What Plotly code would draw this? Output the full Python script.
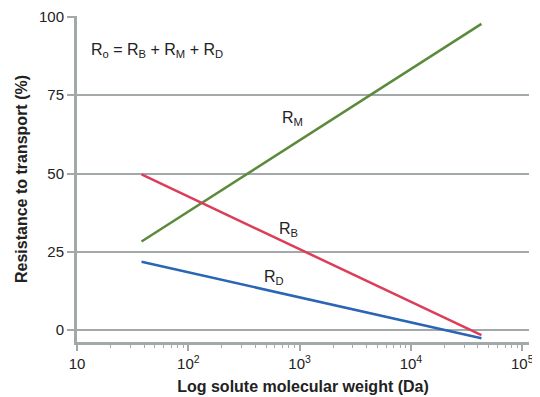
import plotly.graph_objects as go
import numpy as np

# Data (molecular weight in Da, resistance in %)
mw = [38, 43000]
r_m = [28.3, 97.8]
r_b = [49.7, -1.6]
r_d = [21.8, -2.6]

x_major = [10, 100, 1000, 10000, 100000]
x_major_text = ["10", "10<sup>2</sup>", "10<sup>3</sup>", "10<sup>4</sup>", "10<sup>5</sup>"]
x_minor = [m * d for d in [10, 100, 1000, 10000] for m in range(2, 10)]
y_ticks = [0, 25, 50, 75, 100]

green = "#5b8a3c"
red = "#dc3d58"
blue = "#2b65b5"
grey = "#a3a8a8"

fig = go.Figure()
fig.add_trace(go.Scatter(x=mw, y=r_m, mode="lines", line=dict(color=green, width=2.5), showlegend=False))
fig.add_trace(go.Scatter(x=mw, y=r_b, mode="lines", line=dict(color=red, width=2.5), showlegend=False))
fig.add_trace(go.Scatter(x=mw, y=r_d, mode="lines", line=dict(color=blue, width=2.5), showlegend=False))

font = "Liberation Sans, Arial, sans-serif"
ann = [
    dict(x=np.log10(12.8), y=89.4, text="R<sub>o</sub> = R<sub>B</sub> + R<sub>M</sub> + R<sub>D</sub>", xanchor="left"),
    dict(x=2.94, y=67.5, text="R<sub>M</sub>", xanchor="center"),
    dict(x=2.90, y=32.0, text="R<sub>B</sub>", xanchor="center"),
    dict(x=2.77, y=16.8, text="R<sub>D</sub>", xanchor="center"),
]
for a in ann:
    fig.add_annotation(xref="x", yref="y", showarrow=False, yanchor="middle",
                       font=dict(family=font, size=16, color="#222222"), **a)

# page body adds an 8px offset, so the figure is sized 8px smaller
fig.update_layout(
    width=532, height=389,
    margin=dict(l=69, r=11, t=8, b=55),
    plot_bgcolor="white", paper_bgcolor="white",
    font=dict(family=font, size=15, color="#222222"),
    xaxis=dict(
        type="log", range=[1, np.log10(115000)], automargin=False,
        tickmode="array", tickvals=x_major, ticktext=x_major_text,
        ticklabeloverflow="allow",
        ticks="outside", ticklen=6, tickwidth=1.5, tickcolor=grey,
        minor=dict(tickmode="array", tickvals=x_minor, ticks="outside", ticklen=3, tickwidth=1.2, tickcolor=grey, showgrid=False),
        showgrid=False, showline=True, linecolor=grey, linewidth=3,
        zeroline=False,
        title=dict(text="<b>Log solute molecular weight (Da)</b>", font=dict(size=16), standoff=10),
    ),
    yaxis=dict(
        range=[-3.8, 100.3], automargin=False,
        tickmode="array", tickvals=y_ticks,
        ticks="outside", ticklen=7, tickwidth=1.5, tickcolor=grey,
        showgrid=True, gridcolor=grey, gridwidth=1.5,
        showline=True, linecolor=grey, linewidth=3,
        zeroline=False,
        title=dict(text="<b>Resistance to transport (%)</b>", font=dict(size=16), standoff=8),
    ),
)

fig.write_html("out.html")
